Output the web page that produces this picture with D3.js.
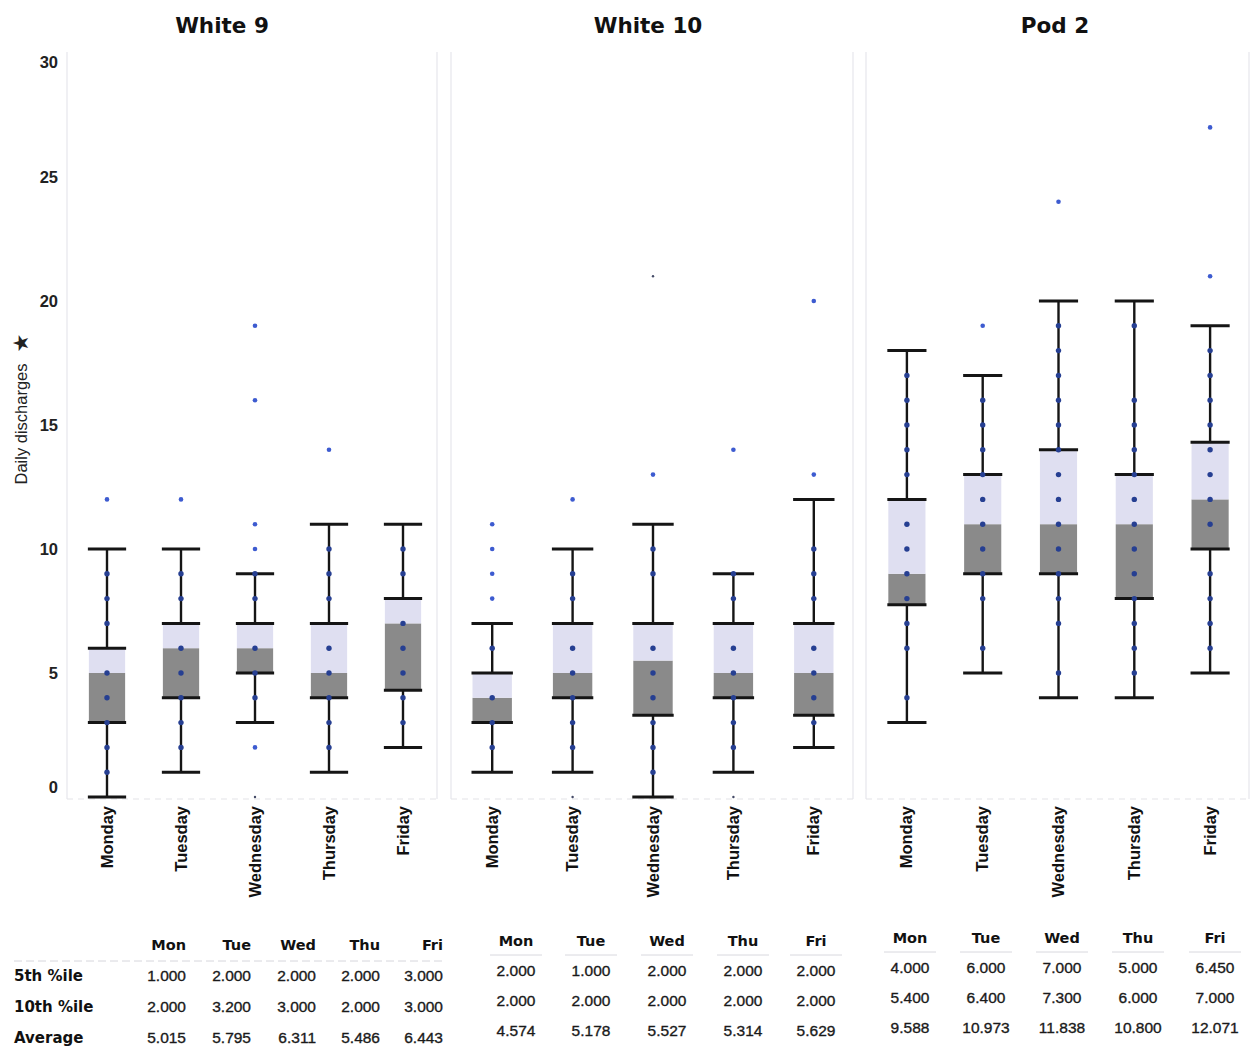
<!DOCTYPE html>
<html>
<head>
<meta charset="utf-8">
<script src="https://cdn.jsdelivr.net/npm/d3@7"></script>
<style>
  html, body { margin: 0; padding: 0; background: #fff; }
  svg { display: block; }
</style>
</head>
<body>
<svg id="chart" width="1251" height="1049"></svg>
<script>
// Daily discharges by weekday for three units
const panels = ["White 9", "White 10", "Pod 2"];
const days = ["Monday", "Tuesday", "Wednesday", "Thursday", "Friday"];
const dayAbbr = ["Mon", "Tue", "Wed", "Thu", "Fri"];
const yTicks = [0, 5, 10, 15, 20, 25, 30];

// box statistics, one row per unit, one value per weekday
const whiskerLow  = [[0, 1, 3, 1, 2], [1, 1, 0, 1, 2], [3, 5, 4, 4, 5]];
const quartile1   = [[3, 4, 5, 4, 4.3], [3, 4, 3.3, 4, 3.3], [7.75, 9, 9, 8, 10]];
const medians     = [[5, 6, 6, 5, 7], [4, 5, 5.5, 5, 5], [9, 11, 11, 11, 12]];
const quartile3   = [[6, 7, 7, 7, 8], [5, 7, 7, 7, 7], [12, 13, 14, 13, 14.3]];
const whiskerHigh = [[10, 10, 9, 11, 11], [7, 10, 11, 9, 12], [18, 17, 20, 20, 19]];

// observed daily counts that fall inside the whiskers
const innerPoints = [
  [[1, 2, 3, 4, 5, 7, 8, 9], [2, 3, 4, 5, 6, 8, 9], [4, 5, 6, 8, 9], [2, 3, 4, 5, 6, 8, 9, 10], [3, 4, 5, 6, 7, 9, 10]],
  [[2, 3, 4, 6], [2, 3, 4, 5, 6, 8, 9], [1, 2, 3, 4, 5, 6, 9, 10], [2, 3, 4, 5, 6, 8, 9], [3, 4, 5, 6, 8, 9, 10]],
  [[4, 6, 7, 8, 9, 10, 11, 13, 14, 15, 16, 17], [6, 8, 9, 10, 11, 12, 13, 14, 15, 16],
   [5, 7, 8, 9, 10, 11, 12, 13, 14, 15, 16, 17, 18, 19], [5, 6, 7, 8, 9, 10, 11, 12, 13, 14, 15, 16, 19],
   [6, 7, 8, 9, 11, 12, 13, 14, 15, 16, 17, 18]]
];
// counts outside the whiskers
const outliers = [
  [[12], [12], [2, 10, 11, 16, 19], [14], []],
  [[8, 9, 10, 11], [12], [13], [14], [13, 20]],
  [[], [19], [24], [], [21, 27]]
];
// single rare observations
const rarePoints = [
  [[], [], [0], [], []],
  [[], [0], [21], [0], []],
  [[], [], [], [], []]
];

// summary table
const rowLabels = ["5th %ile", "10th %ile", "Average"];
const pct5  = [[1, 2, 2, 2, 3], [2, 1, 2, 2, 2], [4, 6, 7, 5, 6.45]];
const pct10 = [[2, 3.2, 3, 2, 3], [2, 2, 2, 2, 2], [5.4, 6.4, 7.3, 6, 7]];
const averages = [[5.015, 5.795, 6.311, 5.486, 6.443], [4.574, 5.178, 5.527, 5.314, 5.629], [9.588, 10.973, 11.838, 10.8, 12.071]];

// ---- layout ----
const svg = d3.select("#chart");
const panelRanges = [[70, 440], [452, 854], [869, 1248]];
const panelFrames = [[67, 437], [451, 853], [866, 1249]];
const titleX = [222, 648, 1055];
const y = d3.scaleLinear().domain([0, 30]).range([797, 53]);

const LIGHT = "#dfdff1";
const DARK = "#8a8a8a";
const INK = "#151515";

// y axis
const yAxis = svg.append("g").attr("transform", "translate(58,0)")
  .call(d3.axisLeft(y).tickValues(yTicks).tickSize(0).tickPadding(0));
yAxis.select(".domain").remove();
yAxis.selectAll("text")
  .attr("font-family", "Liberation Sans, Arial, sans-serif")
  .attr("font-size", 16.5).attr("font-weight", "bold").attr("fill", "#222")
  .attr("dy", d => d === 0 ? "-0.3em" : d === 30 ? "0.9em" : "0.32em");

const yTitle = svg.append("g").attr("transform", "translate(27,424) rotate(-90)");
yTitle.append("text").attr("text-anchor", "middle")
  .attr("font-family", "Liberation Sans, Arial, sans-serif").attr("font-size", 16.5)
  .attr("fill", "#222").text("Daily discharges");
yTitle.append("text").attr("x", 81).attr("y", 1).attr("text-anchor", "middle")
  .attr("font-family", "DejaVu Sans, sans-serif").attr("font-size", 21)
  .attr("fill", "#222").text("★");

panels.forEach((name, p) => {
  const x = d3.scaleBand().domain(days).range(panelRanges[p]).paddingInner(0.51).paddingOuter(0.255);
  const bw = x.bandwidth();
  const g = svg.append("g");

  // faint panel frame
  const [f0, f1] = panelFrames[p];
  g.append("line").attr("x1", f0).attr("x2", f0).attr("y1", 52).attr("y2", 799)
    .attr("stroke", "#e6e6ec").attr("stroke-width", 1.2);
  g.append("line").attr("x1", f1).attr("x2", f1).attr("y1", 52).attr("y2", 799)
    .attr("stroke", "#e6e6ec").attr("stroke-width", 1.2);
  g.append("line").attr("x1", f0).attr("x2", f1).attr("y1", 799).attr("y2", 799)
    .attr("stroke", "#e4e4e8").attr("stroke-width", 1.2).attr("stroke-dasharray", "6,5");

  // title
  svg.append("text").attr("x", titleX[p]).attr("y", 33).attr("text-anchor", "middle")
    .attr("font-family", "DejaVu Sans, Verdana, sans-serif").attr("font-weight", "bold")
    .attr("font-size", 21.5).attr("fill", "#111").text(name);

  days.forEach((day, i) => {
    const cx = x(day) + bw / 2;
    const x0 = x(day);
    const lo = whiskerLow[p][i], q1 = quartile1[p][i], md = medians[p][i],
          q3 = quartile3[p][i], hi = whiskerHigh[p][i];

    // box: lower part grey, upper part light
    g.append("rect").attr("x", x0).attr("width", bw)
      .attr("y", y(md)).attr("height", y(q1) - y(md)).attr("fill", DARK);
    g.append("rect").attr("x", x0).attr("width", bw)
      .attr("y", y(q3)).attr("height", y(md) - y(q3)).attr("fill", LIGHT);

    // whiskers
    g.append("line").attr("x1", cx).attr("x2", cx).attr("y1", y(lo)).attr("y2", y(q1))
      .attr("stroke", INK).attr("stroke-width", 2.4);
    g.append("line").attr("x1", cx).attr("x2", cx).attr("y1", y(q3)).attr("y2", y(hi))
      .attr("stroke", INK).attr("stroke-width", 2.4);
    [lo, hi, q1, q3].forEach(v => {
      g.append("line").attr("x1", x0 - 1).attr("x2", x0 + bw + 1).attr("y1", y(v)).attr("y2", y(v))
        .attr("stroke", INK).attr("stroke-width", 3);
    });

    // observations
    g.selectAll(null).data(innerPoints[p][i]).join("circle")
      .attr("cx", cx).attr("cy", d => y(d)).attr("r", 2.7).attr("fill", "#263f92");
    g.selectAll(null).data(outliers[p][i]).join("circle")
      .attr("cx", cx).attr("cy", d => y(d)).attr("r", 2.3).attr("fill", "#3d5bd0");
    g.selectAll(null).data(rarePoints[p][i]).join("circle")
      .attr("cx", cx).attr("cy", d => y(d)).attr("r", 1.2).attr("fill", "#444a66");

    // weekday label
    g.append("text").attr("transform", `translate(${cx + 5.5},806) rotate(-90)`)
      .attr("text-anchor", "end")
      .attr("font-family", "Liberation Sans, Arial, sans-serif").attr("font-weight", "bold")
      .attr("font-size", 16.5).attr("fill", "#111").text(day);
  });
});

// ---- summary tables ----
const tableCfg = [
  { cols: [186, 251, 316, 380, 443], anchor: "end", headY: 944, rowY: [975, 1006, 1037] },
  { cols: [516, 591, 667, 743, 816], anchor: "middle", headY: 940, rowY: [970, 1000, 1030] },
  { cols: [910, 986, 1062, 1138, 1215], anchor: "middle", headY: 937, rowY: [967, 997, 1027] }
];
const fmt = d3.format(".3f");
const tableRows = [pct5, pct10, averages];

rowLabels.forEach((lab, r) => {
  svg.append("text").attr("x", 14).attr("y", tableCfg[0].rowY[r] + 5.5)
    .attr("font-family", "DejaVu Sans, Verdana, sans-serif").attr("font-weight", "bold")
    .attr("font-size", 15).attr("fill", "#111").text(lab);
});
svg.append("line").attr("x1", 14).attr("x2", 445).attr("y1", 961).attr("y2", 961)
  .attr("stroke", "#d6d6dc").attr("stroke-dasharray", "8,4");

tableCfg.forEach((cfg, p) => {
  dayAbbr.forEach((d, c) => {
    const tx = cfg.cols[c];
    svg.append("text").attr("x", tx).attr("y", cfg.headY + 5.5).attr("text-anchor", cfg.anchor)
      .attr("font-family", "DejaVu Sans, Verdana, sans-serif").attr("font-weight", "bold")
      .attr("font-size", 14.5).attr("fill", "#111").text(d);
    if (p > 0) {
      svg.append("line").attr("x1", tx - 26).attr("x2", tx + 26)
        .attr("y1", cfg.headY + 15).attr("y2", cfg.headY + 15)
        .attr("stroke", "#d8d8de").attr("stroke-width", 1);
    }
    tableRows.forEach((rowVals, r) => {
      svg.append("text").attr("x", tx).attr("y", cfg.rowY[r] + 5.5).attr("text-anchor", cfg.anchor)
        .attr("font-family", "Liberation Sans, Arial, sans-serif")
        .attr("font-size", 15.5).attr("fill", "#1a1a1a")
        .attr("stroke", "#1a1a1a").attr("stroke-width", 0.35)
        .text(fmt(rowVals[p][c]));
    });
  });
});
</script>
</body>
</html>
